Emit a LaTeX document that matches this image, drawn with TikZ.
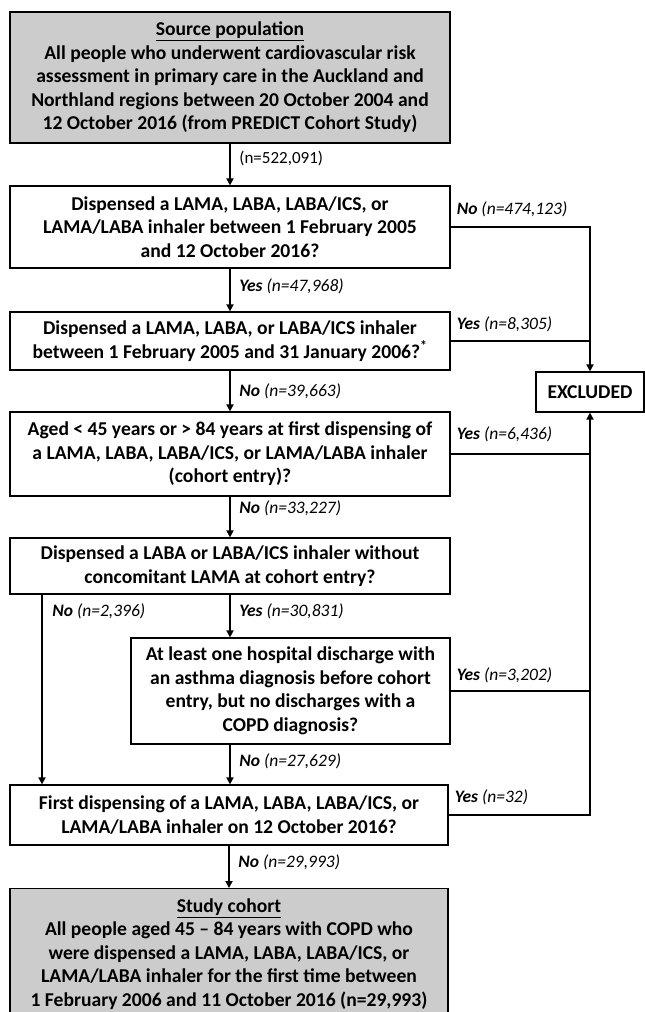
\documentclass[tikz,border=0pt]{standalone}
\usepackage{fontspec}
\setmainfont{Carlito}
\usetikzlibrary{arrows.meta,calc}
\newcommand\boxfs{\fontsize{19.6}{23.5}\selectfont}
\newcommand\labfs{\fontsize{17.5}{20}\selectfont}
\newcommand\smallfs{\fontsize{17}{19}\selectfont}
\newcommand\yes[1]{\textbf{\textit{Yes}} \textit{(n=#1)}}
\newcommand\no[1]{\textbf{\textit{No}} \textit{(n=#1)}}
\begin{document}
\begin{tikzpicture}[x=1pt,y=-1pt,
  box/.style={draw, line width=1.2pt, align=center, font=\bfseries\boxfs, inner sep=0pt, fill=white},
  graybox/.style={box, fill=gray!40},
  conn/.style={line width=2.8pt},
  arr/.style={conn, -{Triangle[length=7pt,width=7pt]}},
  lab/.style={font=\labfs, inner sep=0pt}]
\useasboundingbox (0,0) rectangle (645,1012);
\clip (0,0) rectangle (645,1012);

\node[graybox, minimum width=440pt, minimum height=131pt] (src) at (230,77.5)
 {\underline{Source population}\\
  All people who underwent cardiovascular risk\\
  assessment in primary care in the Auckland and\\
  Northland regions between 20 October 2004 and\\
  12 October 2016 (from PREDICT Cohort Study)};

\node[box, minimum width=440pt, minimum height=82pt] (q1) at (230,227)
 {Dispensed a LAMA, LABA, LABA/ICS, or\\
  LAMA/LABA inhaler between 1 February 2005\\
  and 12 October 2016?};

\node[box, minimum width=440pt, minimum height=58pt] (q2) at (230,341)
 {Dispensed a LAMA, LABA, or LABA/ICS inhaler\\
  between 1 February 2005 and 31 January 2006?\textsuperscript{*}};

\node[box, minimum width=440pt, minimum height=84pt] (q3) at (230,454)
 {Aged < 45 years or > 84 years at first dispensing of\\
  a LAMA, LABA, LABA/ICS, or LAMA/LABA inhaler\\
  (cohort entry)?};

\node[box, minimum width=440pt, minimum height=56pt] (q4) at (230,566)
 {Dispensed a LABA or LABA/ICS inhaler without\\
  concomitant LAMA at cohort entry?};

\node[box, minimum width=319pt, minimum height=106pt] (q5) at (290.5,691)
 {At least one hospital discharge with\\
  an asthma diagnosis before cohort\\
  entry, but no discharges with a\\
  COPD diagnosis?};

\node[box, minimum width=438pt, minimum height=60pt] (q6) at (229,815)
 {First dispensing of a LAMA, LABA, LABA/ICS, or\\
  LAMA/LABA inhaler on 12 October 2016?};

\node[graybox, minimum width=438pt, minimum height=131pt, anchor=north] (coh) at (229,888)
 {\underline{Study cohort}\\
  All people aged 45 -- 84 years with COPD who\\
  were dispensed a LAMA, LABA, LABA/ICS, or\\
  LAMA/LABA inhaler for the first time between\\
  1 February 2006 and 11 October 2016 (n=29,993)};

\node[box, minimum width=108pt, minimum height=40pt] (ex) at (590,392) {EXCLUDED};

\coordinate (lx) at (42,0);

% main vertical flow
\draw[arr] (src) -- (q1) node[lab, font=\smallfs, pos=0.35, right=8pt] {(n=522,091)};
\draw[arr] (q1) -- (q2) node[lab, pos=0.42, right=8pt] {\yes{47,968}};
\draw[arr] (q2) -- (q3) node[lab, pos=0.5, right=8pt] {\no{39,663}};
\draw[arr] (q3) -- (q4) node[lab, pos=0.28, right=8pt] {\no{33,227}};
\draw[arr] (q4.south) -- (q4.south |- q5.north) node[lab, pos=0.4, right=8pt] {\yes{30,831}};
\draw[arr] (q4.south -| lx) -- (q6.north -| lx) node[lab, pos=0.09, right=9pt] {\no{2,396}};
\draw[arr] (q5.south -| q4.south) -- (q6.north -| q4.south) node[lab, pos=0.42, right=8pt] {\no{27,629}};
\draw[arr] (q6) -- (coh) node[lab, pos=0.4, right=8pt] {\no{29,993}};

% exclusions
\draw[arr] (q1.east) -- (q1.east -| ex) -- (ex.north);
\draw[conn] (q2.east) -- (q2.east -| ex);
\draw[arr] (q6.east) -- (q6.east -| ex) -- (ex.south);
\draw[conn] (q3.east) -- (q3.east -| ex);
\draw[conn] (q5.east) -- (q5.east -| ex);

\node[lab, anchor=south west] at ($(q1.east)+(6,-10)$) {\no{474,123}};
\node[lab, anchor=south west] at ($(q2.east)+(6,-9)$) {\yes{8,305}};
\node[lab, anchor=south west] at ($(q3.east)+(6,-12)$) {\yes{6,436}};
\node[lab, anchor=south west] at ($(q5.east)+(6,-8)$) {\yes{3,202}};
\node[lab, anchor=south west] at ($(q6.east)+(6,-10)$) {\yes{32}};
\end{tikzpicture}
\end{document}
